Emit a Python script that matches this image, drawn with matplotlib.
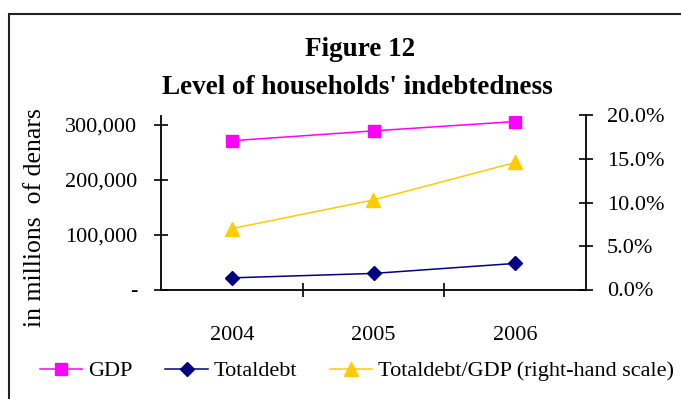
import matplotlib
matplotlib.use("Agg")
import matplotlib.pyplot as plt
from matplotlib.patches import Rectangle

years = ["2004", "2005", "2006"]
gdp = [271000, 289000, 306000]
total_debt = [21200, 29300, 47500]
debt_to_gdp = [7.0, 10.3, 14.6]
left_ticks = [0, 100000, 200000, 300000]
left_labels = ["-", "100,000", "200,000", "300,000"]
right_ticks = [0, 5, 10, 15, 20]
right_labels = ["0.0%", "5.0%", "10.0%", "15.0%", "20.0%"]

plt.rcParams['font.family'] = ['Liberation Serif', 'DejaVu Serif']

W, H = 681, 399
fig = plt.figure(figsize=(W/100, H/100), dpi=100)
fig.patches.append(Rectangle((8.5/W, -0.02), 1.0, (H-13.5)/H + 0.02,
                             transform=fig.transFigure, fill=False,
                             edgecolor='#222222', linewidth=1.5))

ax = fig.add_axes([161/W, (H-289.5)/H, (586-161)/W, (289.5-115.5)/H])
x = list(range(len(years)))
ax.plot(x, gdp, color='#FF00FF', marker='s', markersize=8, linewidth=1.1, label='GDP')
ax.plot(x, total_debt, color='#000080', marker='D', markersize=7, linewidth=1.1, label='Totaldebt')
ax.set_xlim(-0.5, 2.5)
ax.set_ylim(0, 317000)
ax.set_yticks(left_ticks)
ax.set_yticklabels(left_labels, fontsize=16)
ax.set_xticks([0.5, 1.5])
ax.set_xticklabels([])
ax.set_xticks(x, minor=True)
ax.set_xticklabels(years, minor=True, fontsize=16)
ax.tick_params(axis='x', which='minor', length=0, pad=26)
ax.tick_params(axis='x', which='major', direction='inout', length=10, width=1.2)
ax.tick_params(axis='y', direction='inout', length=10, width=1.2, pad=12)
ax.spines['top'].set_visible(False)
ax.spines['right'].set_visible(False)
for s in ['left', 'bottom']:
    ax.spines[s].set_linewidth(1.3)

ax2 = ax.twinx()
ax2.plot(x, debt_to_gdp, color='#FFCC00', marker='^', markersize=9.5, linewidth=1.1,
         label='Totaldebt/GDP (right-hand scale)')
ax2.set_ylim(0, 20)
ax2.set_yticks(right_ticks)
ax2.set_yticklabels(right_labels, fontsize=16)
ax2.tick_params(axis='y', direction='inout', length=10, width=1.2, pad=10)
ax2.spines['top'].set_visible(False)
ax2.spines['left'].set_visible(False)
ax2.spines['bottom'].set_visible(False)
ax2.spines['right'].set_linewidth(1.3)

fig.text(35/W, 1 - 218/H, "in millions  of denars", rotation=90, ha='center', va='center',
         fontsize=18.5)

fig.text(360/W, 1 - 49/H, "Figure 12", ha='center', va='center',
         fontsize=19.5, fontweight='bold')
fig.text(357/W, 1 - 88/H, "Level of households' indebtedness", ha='center', va='center',
         fontsize=19.5, fontweight='bold')

handles = ax.get_lines() + ax2.get_lines()
labels = [h.get_label() for h in handles]
fig.legend(handles, labels, loc='center left', bbox_to_anchor=(40/W, 1 - 371/H),
           ncol=3, frameon=False, fontsize=16, handlelength=1.9, handletextpad=0.25,
           columnspacing=1.5, borderpad=0, borderaxespad=0)

fig.savefig("out.png", dpi=100)
